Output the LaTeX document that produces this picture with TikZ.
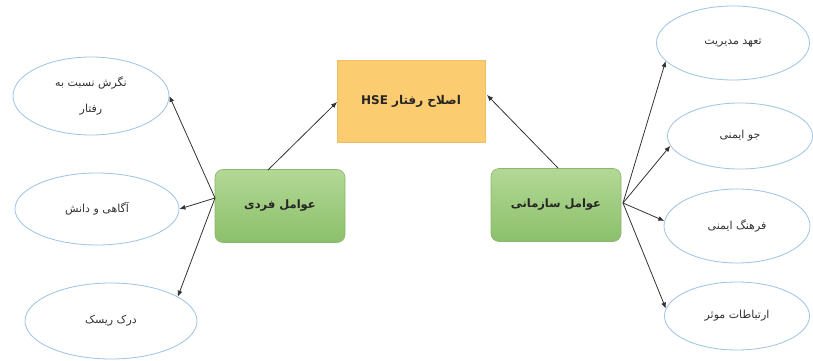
\documentclass[tikz,border=0pt]{standalone}
\usepackage{fontspec}
\setmainfont{DejaVu Sans}
\newfontfamily\arabicfont[Script=Arabic]{DejaVu Sans}
\TeXXeTstate=1
\usetikzlibrary{shapes.geometric,arrows.meta}
\definecolor{ellline}{RGB}{157,195,230}
\definecolor{greentop}{RGB}{178,216,150}
\definecolor{greenbot}{RGB}{140,192,106}
\definecolor{greenline}{RGB}{140,181,110}
\definecolor{orangefill}{RGB}{251,204,112}
\definecolor{orangeline}{RGB}{240,190,100}
\definecolor{arrowcol}{RGB}{50,50,50}
\tikzset{
  oval/.style={ellipse, draw=ellline, line width=0.8pt, fill=white, inner sep=0pt,
    font=\arabicfont\fontsize{11}{26}\selectfont, align=center, text=black!80},
  greenbox/.style={rectangle, rounded corners=8pt, draw=greenline, line width=0.6pt,
    top color=greentop, bottom color=greenbot, minimum width=130pt, minimum height=73pt,
    font=\arabicfont\bfseries\fontsize{11.5}{14}\selectfont, text=black!85},
  orangebox/.style={rectangle, draw=orangeline, line width=0.4pt, fill=orangefill,
    minimum width=148pt, minimum height=82pt,
    font=\arabicfont\bfseries\fontsize{12}{14}\selectfont, text=black!85},
  conn/.style={draw=arrowcol, line width=0.8pt, -{Latex[length=6pt,width=5pt]}}
}
\begin{document}
\begin{tikzpicture}[x=1pt,y=-1pt]
\useasboundingbox (0,0) rectangle (813,361);
% central boxes
\node[orangebox] (hse) at (411,101) {\beginR اصلاح رفتار \beginL HSE\endL\endR};
\node[greenbox] (gl) at (280,206) {\beginR عوامل فردی\endR};
\node[greenbox] (gr) at (556,205) {\beginR عوامل سازمانی\endR};
% left ellipses
\node[oval, minimum width=156pt, minimum height=78pt] (l1) at (91,96) {\beginR نگرش نسبت به\endR\\\beginR رفتار\endR};
\node[oval, minimum width=164pt, minimum height=72pt] (l2) at (97,209) {\beginR آگاهی و دانش\endR};
\node[oval, minimum width=172pt, minimum height=76pt] (l3) at (111,321) {\beginR درک ریسک\endR};
% right ellipses
\node[oval, minimum width=153pt, minimum height=74pt] (r1) at (733,43) {\beginR تعهد مدیریت\endR};
\node[oval, minimum width=145pt, minimum height=66pt] (r2) at (740,136) {\beginR جو ایمنی\endR};
\node[oval, minimum width=146pt, minimum height=74pt] (r3) at (737,226) {\beginR فرهنگ ایمنی\endR};
\node[oval, minimum width=145pt, minimum height=68pt] (r4) at (737,316) {\beginR ارتباطات موثر\endR};
% connector origins
\coordinate (glo) at (215,198);
\coordinate (gro) at (623,203);
\coordinate (glt) at (268,170);
\coordinate (grt) at (558,168);
\coordinate (hsel) at (337,102);
\coordinate (hser) at (487,95);
% connectors
\draw[conn] (glo) -- (l1.east);
\draw[conn] (glo) -- (l2.east);
\draw[conn] (glo) -- (l3.20);
\draw[conn] (glt) -- (hsel);
\draw[conn] (grt) -- (hser);
\draw[conn] (gro) -- (r1.195);
\draw[conn] (gro) -- (r2.188);
\draw[conn] (gro) -- (r3.176);
\draw[conn] (gro) -- (r4.174);
\end{tikzpicture}
\end{document}
